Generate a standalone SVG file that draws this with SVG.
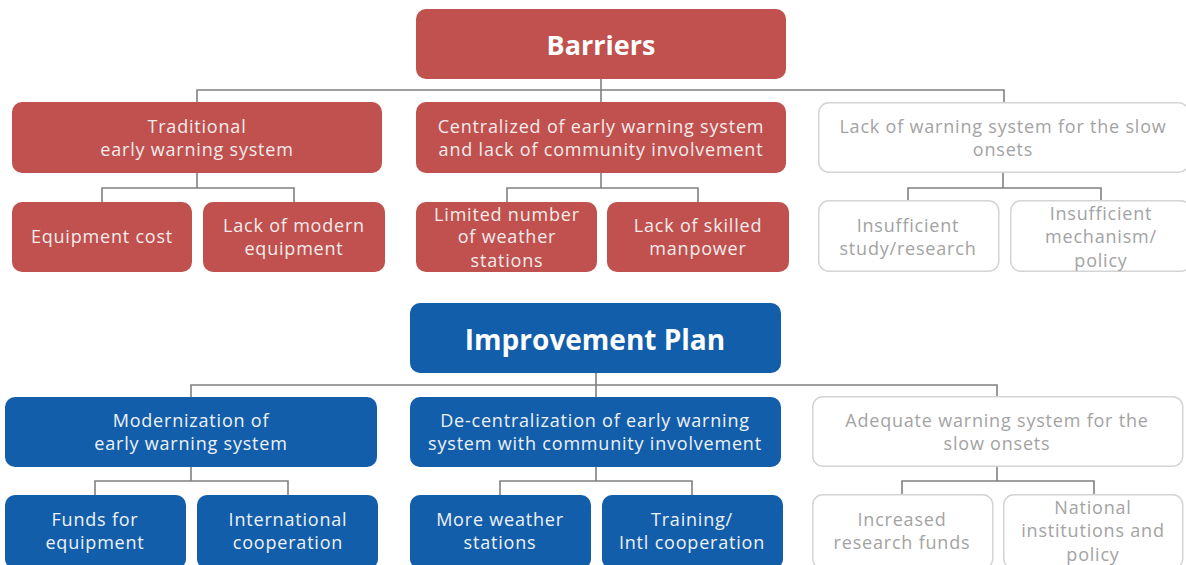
<svg xmlns="http://www.w3.org/2000/svg" width="1186" height="565" viewBox="0 0 1186 565">
<style>
.red{fill:#C0514E}
.blue{fill:#135EAA}
.gray{fill:#ffffff;stroke:#d4d4d4;stroke-width:1.5}
text{font-family:"Open Sans","Liberation Sans",sans-serif;text-anchor:middle;font-size:18px;letter-spacing:0.8px}
.w{fill:#f4ecec}
.wb{fill:#eef2f8}
.g{fill:#a3a3a3}
.title{font-weight:bold;font-size:27px;fill:#ffffff;letter-spacing:0}
.conn{fill:none;stroke:#808080;stroke-width:1.6}
</style>
<rect width="1186" height="565" fill="#ffffff"/>
<g id="connectors" class="conn">
<path d="M601 79V90M197 103V90H1004V103M601 90V103"/>
<path d="M197 173V188M102 202V188H294V202"/>
<path d="M601 173V188M507 202V188H698V202"/>
<path d="M1003 173V188M908 202V188H1101V202"/>
<path d="M596 373V385M191 397V385H997V397M596 385V397"/>
<path d="M191 467V481M95 495V481H288V495"/>
<path d="M596 467V481M500 495V481H692V495"/>
<path d="M997 467V481M902 495V481H1094V495"/>
</g>
<g id="barriers"><rect class="red" x="416" y="9" width="370" height="70" rx="10"/><text class="title" x="601" y="55">Barriers</text></g>
<g id="traditional"><rect class="red" x="12" y="102" width="370" height="71" rx="10"/><text class="w" x="197" y="133">Traditional</text><text class="w" x="197" y="156">early warning system</text></g>
<g id="centralized"><rect class="red" x="416" y="102" width="370" height="71" rx="10"/><text class="w" x="601" y="133">Centralized of early warning system</text><text class="w" x="601" y="156">and lack of community involvement</text></g>
<g id="lack-slow"><rect class="gray" x="818.75" y="102.75" width="370" height="69.5" rx="10"/><text class="g" x="1003" y="133">Lack of warning system for the slow</text><text class="g" x="1003" y="156">onsets</text></g>
<g id="equipment-cost"><rect class="red" x="12" y="202" width="180" height="70" rx="10"/><text class="w" x="102" y="243">Equipment cost</text></g>
<g id="lack-modern"><rect class="red" x="203" y="202" width="182" height="70" rx="10"/><text class="w" x="294" y="232">Lack of modern</text><text class="w" x="294" y="255">equipment</text></g>
<g id="limited"><rect class="red" x="416" y="202" width="181" height="70" rx="10"/><text class="w" x="507" y="221">Limited number</text><text class="w" x="507" y="243">of weather</text><text class="w" x="507" y="267">stations</text></g>
<g id="lack-skilled"><rect class="red" x="607" y="202" width="182" height="70" rx="10"/><text class="w" x="698" y="232">Lack of skilled</text><text class="w" x="698" y="255">manpower</text></g>
<g id="insufficient-study"><rect class="gray" x="818.75" y="200.75" width="180" height="70.5" rx="10"/><text class="g" x="908" y="232">Insufficient</text><text class="g" x="908" y="255">study/research</text></g>
<g id="insufficient-mech"><rect class="gray" x="1010.75" y="200.75" width="180" height="70.5" rx="10"/><text class="g" x="1101" y="220">Insufficient</text><text class="g" x="1101" y="243">mechanism/</text><text class="g" x="1101" y="267">policy</text></g>
<g id="improvement"><rect class="blue" x="410" y="303" width="371" height="70" rx="10"/><text class="title" x="595" y="350" style="font-size:28px">Improvement Plan</text></g>
<g id="modernization"><rect class="blue" x="5" y="397" width="372" height="70" rx="10"/><text class="wb" x="191" y="427">Modernization of</text><text class="wb" x="191" y="450">early warning system</text></g>
<g id="decentralization"><rect class="blue" x="410" y="397" width="371" height="70" rx="10"/><text class="wb" x="595" y="427">De-centralization of early warning</text><text class="wb" x="595" y="450">system with community involvement</text></g>
<g id="adequate"><rect class="gray" x="812.75" y="396.75" width="370" height="69.5" rx="10"/><text class="g" x="997" y="427">Adequate warning system for the</text><text class="g" x="997" y="450">slow onsets</text></g>
<g id="funds"><rect class="blue" x="5" y="495" width="181" height="74" rx="10"/><text class="wb" x="95" y="526">Funds for</text><text class="wb" x="95" y="549">equipment</text></g>
<g id="international"><rect class="blue" x="197" y="495" width="181" height="74" rx="10"/><text class="wb" x="288" y="526">International</text><text class="wb" x="288" y="549">cooperation</text></g>
<g id="more-weather"><rect class="blue" x="410" y="495" width="181" height="74" rx="10"/><text class="wb" x="500" y="526">More weather</text><text class="wb" x="500" y="549">stations</text></g>
<g id="training"><rect class="blue" x="602" y="495" width="181" height="74" rx="10"/><text class="wb" x="692" y="526">Training/</text><text class="wb" x="692" y="549">Intl cooperation</text></g>
<g id="increased"><rect class="gray" x="812.75" y="494.75" width="180" height="74" rx="10"/><text class="g" x="902" y="526">Increased</text><text class="g" x="902" y="549">research funds</text></g>
<g id="national"><rect class="gray" x="1003.75" y="494.75" width="179" height="74" rx="10"/><text class="g" x="1093" y="514">National</text><text class="g" x="1093" y="537">institutions and</text><text class="g" x="1093" y="561">policy</text></g>
</svg>
